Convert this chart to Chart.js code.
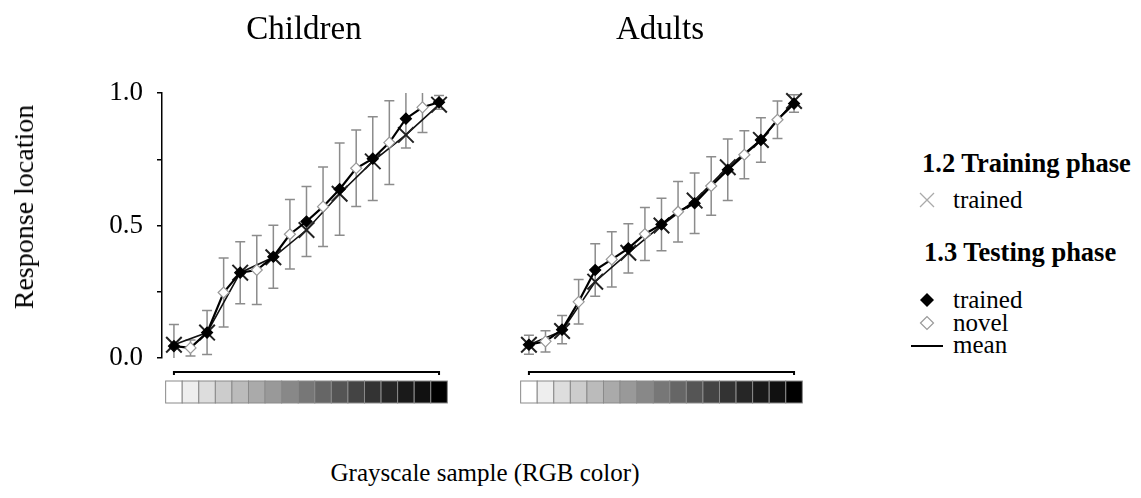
<!DOCTYPE html>
<html lang="en">
<head>
<meta charset="UTF-8">
<title>Response location by grayscale sample</title>
<script src="https://cdn.jsdelivr.net/npm/chart.js"></script>
<style>
  body { margin: 0; background: #fff; font-family: 'Liberation Serif', 'Times New Roman', serif; color: #000; }
  #wrap { position: relative; width: 1141px; height: 498px; overflow: hidden; }
  canvas { position: absolute; top: 0; }
  .txt { position: absolute; line-height: 1; white-space: nowrap; font-family: 'Liberation Serif', serif; }
  .title { font-size: 33px; transform: translateX(-50%); }
  .lg { font-size: 25px; }
  .lgh { font-size: 26.5px; font-weight: bold; }
  svg { position: absolute; overflow: visible; }
</style>
</head>
<body>
<div id="wrap">
  <canvas id="kids" width="470" height="420" style="left:0;width:470px;height:420px"></canvas>
  <canvas id="adults" width="320" height="420" style="left:500px;width:320px;height:420px"></canvas>

  <div class="txt title" style="left:304px;top:12px">Children</div>
  <div class="txt title" style="left:660px;top:12px">Adults</div>
  <div class="txt" style="left:24px;top:207px;font-size:28px;transform:translate(-50%,-50%) rotate(-90deg)">Response location</div>
  <div class="txt" style="left:485px;top:472px;font-size:25px;transform:translate(-50%,-50%)">Grayscale sample (RGB color)</div>

  <!-- legend -->
  <div class="txt lgh" style="left:922px;top:150px">1.2 Training phase</div>
  <svg style="left:927px;top:200px" width="1" height="1"><path d="M-7,-7L7,7M-7,7L7,-7" stroke="#aaa" stroke-width="1.3"/></svg>
  <div class="txt lg" style="left:953px;top:187px">trained</div>
  <div class="txt lgh" style="left:924px;top:239px">1.3 Testing phase</div>
  <svg style="left:927px;top:300px" width="1" height="1"><path d="M-7,0L0,-7L7,0L0,7Z" fill="#000"/></svg>
  <div class="txt lg" style="left:953px;top:287px">trained</div>
  <svg style="left:927px;top:323px" width="1" height="1"><path d="M-6.5,0L0,-6.5L6.5,0L0,6.5Z" fill="#fff" stroke="#999" stroke-width="1.2"/></svg>
  <div class="txt lg" style="left:953px;top:310px">novel</div>
  <svg style="left:911px;top:346px" width="1" height="1"><path d="M0,0L32,0" stroke="#000" stroke-width="2"/></svg>
  <div class="txt lg" style="left:953px;top:332px">mean</div>
</div>

<script>
// grayscale samples, white to black (RGB channel value)
const shades = [255, 238, 221, 204, 187, 170, 153, 136, 119, 102, 85, 68, 51, 38, 26, 17, 0];

// testing phase means for all 17 samples (even index = trained, odd = novel)
const kidsTest = [0.045, 0.038, 0.096, 0.247, 0.322, 0.332, 0.382, 0.467, 0.515, 0.571, 0.637, 0.716, 0.752, 0.813, 0.903, 0.946, 0.965];
const kidsSD = [0.081, 0.03, 0.083, 0.13, 0.117, 0.13, 0.119, 0.131, 0.132, 0.15, 0.174, 0.144, 0.158, 0.158, 0.111, 0.095, 0.026];
// training phase means, trained samples only (every second one)
const kidsTrain = [0.05, 0.096, 0.322, 0.38, 0.483, 0.62, 0.742, 0.842, 0.956];

const adultTest = [0.05, 0.063, 0.107, 0.212, 0.332, 0.372, 0.414, 0.468, 0.504, 0.552, 0.584, 0.649, 0.71, 0.767, 0.823, 0.899, 0.96];
const adultSD = [0.036, 0.04, 0.053, 0.084, 0.099, 0.104, 0.093, 0.1, 0.099, 0.114, 0.114, 0.11, 0.116, 0.091, 0.084, 0.071, 0.033];
const adultTrain = [0.05, 0.102, 0.288, 0.397, 0.5, 0.594, 0.72, 0.823, 0.97];

const yTicks = [0, 0.5, 1.0];

// vertical SD bars behind the markers, clipped to the plot box
const errorBars = {
  id: 'errorBars',
  beforeDatasetsDraw(chart, args, opts) {
    const { ctx, chartArea: a, scales: { x, y } } = chart;
    ctx.save();
    ctx.beginPath();
    ctx.rect(a.left, a.top, a.right - a.left, a.bottom - a.top);
    ctx.clip();
    ctx.strokeStyle = '#8c8c8c';
    ctx.lineWidth = 1.5;
    opts.mean.forEach((m, i) => {
      const px = x.getPixelForValue(i);
      const hi = y.getPixelForValue(m + opts.sd[i]);
      const lo = y.getPixelForValue(m - opts.sd[i]);
      ctx.beginPath();
      ctx.moveTo(px, hi); ctx.lineTo(px, lo);
      ctx.moveTo(px - 5, hi); ctx.lineTo(px + 5, hi);
      ctx.moveTo(px - 5, lo); ctx.lineTo(px + 5, lo);
      ctx.stroke();
    });
    ctx.restore();
  }
};

// bracket and gray swatch strip under each panel
const swatchStrip = {
  id: 'swatchStrip',
  afterDraw(chart) {
    const { ctx, chartArea: a, scales: { x } } = chart;
    const half = (x.getPixelForValue(1) - x.getPixelForValue(0)) / 2;
    const x0 = x.getPixelForValue(0), x1 = x.getPixelForValue(shades.length - 1);
    ctx.save();
    ctx.strokeStyle = '#000';
    ctx.lineWidth = 2;
    ctx.beginPath();
    ctx.moveTo(x0, a.bottom + 17); ctx.lineTo(x0, a.bottom + 14);
    ctx.lineTo(x1, a.bottom + 14); ctx.lineTo(x1, a.bottom + 17);
    ctx.stroke();
    const top = a.bottom + 23, h = 22;
    shades.forEach((g, i) => {
      const px = x.getPixelForValue(i);
      ctx.fillStyle = `rgb(${g},${g},${g})`;
      ctx.fillRect(px - half, top, half * 2, h);
      ctx.strokeStyle = '#8a8a8a';
      ctx.lineWidth = 1;
      ctx.strokeRect(px - half, top, half * 2, h);
    });
    ctx.restore();
  }
};

function makePanel(id, test, sd, train, showY, pad) {
  const testPts = test.map((v, i) => ({ x: i, y: v }));
  const trainPts = train.map((v, k) => ({ x: k * 2, y: v }));
  return new Chart(document.getElementById(id), {
    type: 'line',
    data: {
      datasets: [
        {
          label: 'testing',
          data: testPts,
          borderColor: '#000',
          borderWidth: 2.2,
          tension: 0,
          clip: false,
          pointStyle: 'rectRot',
          pointRadius: 5.5,
          pointBorderWidth: 1.2,
          pointBackgroundColor: c => c.dataIndex % 2 ? '#fff' : '#000',
          pointBorderColor: c => c.dataIndex % 2 ? '#999' : '#000'
        },
        {
          label: 'training',
          data: trainPts,
          borderColor: '#111',
          borderWidth: 1.6,
          tension: 0,
          clip: false,
          pointStyle: 'crossRot',
          pointRadius: 11,
          pointBorderWidth: 2,
          pointBorderColor: '#222'
        }
      ]
    },
    options: {
      responsive: false,
      animation: false,
      layout: { padding: pad },
      scales: {
        x: { type: 'linear', min: -0.72, max: 16.48, display: false },
        y: {
          min: 0, max: 1,
          display: showY,
          afterFit: s => { s.width = showY ? 162 : 0; s.paddingTop = 0; s.paddingBottom = 0; },
          ticks: {
            stepSize: 0.25,
            autoSkip: false,
            padding: 14,
            color: '#000',
            font: { family: 'Liberation Serif', size: 27 },
            callback: v => yTicks.includes(v) ? v.toFixed(1) : ''
          },
          grid: { drawOnChartArea: false, drawTicks: true, tickLength: 5, color: '#000', lineWidth: 1.5 },
          border: { display: true, color: '#000', width: 1.5 }
        }
      },
      plugins: {
        legend: { display: false },
        tooltip: { enabled: false },
        errorBars: { mean: test, sd: sd }
      }
    },
    plugins: [errorBars, swatchStrip]
  });
}

makePanel('kids', kidsTest, kidsSD, kidsTrain, true, { left: 0, top: 93, right: 23, bottom: 62 });
makePanel('adults', adultTest, adultSD, adultTrain, false, { left: 17, top: 93, right: 18, bottom: 62 });
</script>
</body>
</html>
